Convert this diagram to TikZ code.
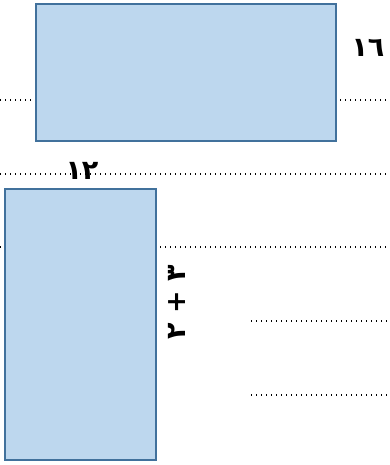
\documentclass[tikz,border=0pt]{standalone}
\usepackage{fontspec}
\TeXXeTstate=1
\newfontfamily\arabicfont[Script=Arabic]{DejaVu Sans}
\begin{document}
\begin{tikzpicture}[x=1pt,y=-1pt,
  boxshape/.style={draw=boxedge,fill=boxfill,line width=2.4pt,inner sep=0pt,anchor=north west},
  dotline/.style={line width=1.4pt,dash pattern=on 1.4pt off 3.6pt,black},
  lbl/.style={font=\arabicfont\bfseries\fontsize{27}{32}\selectfont,inner sep=0pt}]
\definecolor{boxfill}{HTML}{BDD7EE}
\definecolor{boxedge}{HTML}{41719C}
\useasboundingbox (0,0) rectangle (390,465);
% dotted guide lines
\coordinate (la1) at (0,100);   \coordinate (lb1) at (390,100);
\coordinate (la2) at (0,174);   \coordinate (lb2) at (390,174);
\coordinate (la3) at (0,247);   \coordinate (lb3) at (390,247);
\coordinate (la4) at (251,321); \coordinate (lb4) at (390,321);
\coordinate (la5) at (251,395); \coordinate (lb5) at (390,395);
\draw[dotline] (la1) -- (lb1);
\draw[dotline] (la2) -- (lb2);
\draw[dotline] (la3) -- (lb3);
\draw[dotline] (la4) -- (lb4);
\draw[dotline] (la5) -- (lb5);
% rectangles
\node[boxshape,minimum width=300pt,minimum height=137pt] (r1) at (34.5,3) {};
\node[boxshape,minimum width=151pt,minimum height=271pt] (r2) at (3.5,187.5) {};
% labels
\node[lbl] (t16) at (368,48) {١٦};
\node[lbl] (t12) at (82,171) {١٢};
\node[lbl,rotate=90] (tsum) at (177,302) {\beginR ٣ + ٢\endR};
\end{tikzpicture}
\end{document}
